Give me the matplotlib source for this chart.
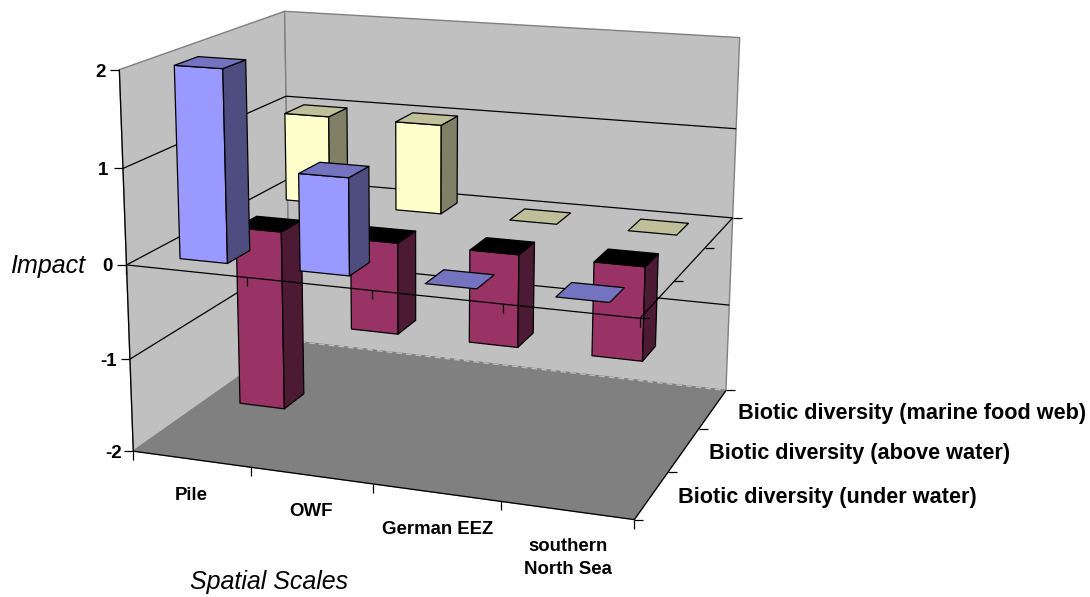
import numpy as np
import matplotlib
matplotlib.use("Agg")
import matplotlib.pyplot as plt
from matplotlib.patches import Polygon

categories = ["Pile", "OWF", "German EEZ", "southern\nNorth Sea"]
series_names = ["Biotic diversity (under water)", "Biotic diversity (above water)",
                "Biotic diversity (marine food web)"]
under_water = [2, 1, 0, 0]
above_water = [-2, -1, -1, -1]
marine_food_web = [1, 1, 0, 0]
z_ticks = [-2, -1, 0, 1, 2]

# (front, side, top) colours per series
styles = [("#9999FF", "#4D4D80", "#7373BF"),
          ("#993366", "#4D1A33", "#000000"),
          ("#FFFFCC", "#808066", "#BFBF99")]

plt.rcParams["font.family"] = ["Liberation Sans", "DejaVu Sans"]
fig = plt.figure(figsize=(10.9, 5.97), dpi=100)
ax = fig.add_axes([0, 0, 1, 1])
ax.set_xlim(0, 1090)
ax.set_ylim(597, 0)
ax.axis("off")

# camera calibration: box corners (category, row, value) -> pixels
world = np.array([(0, 0, -2), (0, 0, 0), (0, 0, 2), (0, 3, 2), (0, 3, 1), (0, 3, -2),
                  (4, 3, 2), (4, 3, 1), (4, 3, 0), (4, 3, -2), (4, 0, 0), (4, 0, -2)], float)
image = np.array([(134.3, 451.7), (126, 265), (119, 69.3), (285.3, 11), (286.3, 97), (289, 340),
                  (739.3, 37.7), (736.3, 128.3), (733, 218.3), (726, 390.7), (639.3, 318.3), (634.7, 519.3)])
A = []
for (X, Y, Z), (u, v) in zip(world, image):
    A.append([X, Y, Z, 1, 0, 0, 0, 0, -u * X, -u * Y, -u * Z, -u])
    A.append([0, 0, 0, 0, X, Y, Z, 1, -v * X, -v * Y, -v * Z, -v])
P = np.linalg.svd(np.array(A))[2][-1].reshape(3, 4)

order = [1]


def next_z():
    order[0] += 1
    return order[0]


def proj(x, y, z):
    h = P @ np.array([x, y, z, 1.0])
    return h[0] / h[2], h[1] / h[2]


def face(pts, fc, ec="black", lw=0.9):
    ax.add_patch(Polygon([proj(*p) for p in pts], closed=True, facecolor=fc, edgecolor=ec,
                         linewidth=lw, joinstyle="round", zorder=next_z()))


def seg(a, b, color="black", lw=0.9, ls="-"):
    pa, pb = proj(*a), proj(*b)
    ax.plot([pa[0], pb[0]], [pa[1], pb[1]], color=color, lw=lw, ls=ls,
            solid_capstyle="butt", zorder=next_z())


def tick(a, dx, dy, lw=0.9):
    p = proj(*a)
    ax.plot([p[0], p[0] + dx], [p[1], p[1] + dy], color="black", lw=lw,
            solid_capstyle="butt", zorder=next_z())


nx, ny = len(categories), len(series_names)
zmin, zmax = z_ticks[0], z_ticks[-1]

# walls and floor
face([(0, 0, zmin), (0, ny, zmin), (0, ny, zmax), (0, 0, zmax)], "#C0C0C0", "#808080", 1.0)
face([(0, ny, zmin), (nx, ny, zmin), (nx, ny, zmax), (0, ny, zmax)], "#C0C0C0", "#808080", 1.0)
face([(0, 0, zmin), (nx, 0, zmin), (nx, ny, zmin), (0, ny, zmin)], "#808080", "#808080", 1.0)
seg((0, ny, zmin), (nx, ny, zmin), color="#C0C0C0", lw=1.0, ls=(0, (4, 3)))

# gridlines on walls
for z in z_ticks[1:-1]:
    seg((0, 0, z), (0, ny, z))
    seg((0, ny, z), (nx, ny, z))

# floor / side axes
seg((0, 0, zmin), (0, 0, zmax))
seg((0, 0, zmin), (nx, 0, zmin))
seg((nx, 0, zmin), (nx, ny, zmin))
for z in z_ticks:
    tick((0, 0, z), -9, 0)
for i in range(nx + 1):
    tick((i, 0, zmin), 0, 9)
for j in range(ny + 1):
    tick((nx, j, zmin), 9, 0)


def bar(i, j, v, st):
    front, side, top = st
    x0, x1, y0, y1 = i + 0.3, i + 0.7, j + 0.3, j + 0.7
    ztop = max(v, 0)
    zbot = min(v, 0)
    if v != 0:
        face([(x0, y0, zbot), (x1, y0, zbot), (x1, y0, ztop), (x0, y0, ztop)], front)
        face([(x1, y0, zbot), (x1, y1, zbot), (x1, y1, ztop), (x1, y0, ztop)], side)
    face([(x0, y0, ztop), (x1, y0, ztop), (x1, y1, ztop), (x0, y1, ztop)], top)


for i, v in enumerate(marine_food_web):
    bar(i, 2, v, styles[2])
for i, v in enumerate(above_water):
    bar(i, 1, v, styles[1])

# zero plane axes over the middle row
seg((0, 0, 0), (nx, 0, 0))
seg((nx, 0, 0), (nx, ny, 0))
for i in range(nx + 1):
    tick((i, 0, 0), 0, 9)
for j in range(ny + 1):
    tick((nx, j, 0), 9, 0)

for i, v in enumerate(under_water):
    bar(i, 0, v, styles[0])

# text
for z, xp, yp in zip(z_ticks, [122, 117, 113, 108, 106], [453.5, 362, 266.5, 170.5, 72.5]):
    ax.text(xp, yp, str(z), ha="right", va="center", fontsize=13.5, fontweight="bold", zorder=1000)
for name, xp, yp in zip(series_names, [678, 709, 738], [497.5, 453.5, 413.5]):
    ax.text(xp, yp, name, ha="left", va="center", fontsize=15.55, fontweight="bold", zorder=1000)
for name, xp, yp in zip(categories, [191, 311, 438, 568], [496, 512, 529, 558]):
    ax.text(xp, yp, name, ha="center", va="center", fontsize=13.4, fontweight="bold",
            linespacing=1.42, zorder=1000)
ax.text(48, 266, "Impact", ha="center", va="center", fontsize=18, style="italic", zorder=1000)
ax.text(269, 582, "Spatial Scales", ha="center", va="center", fontsize=18, style="italic", zorder=1000)

fig.savefig("out.png", dpi=100)
